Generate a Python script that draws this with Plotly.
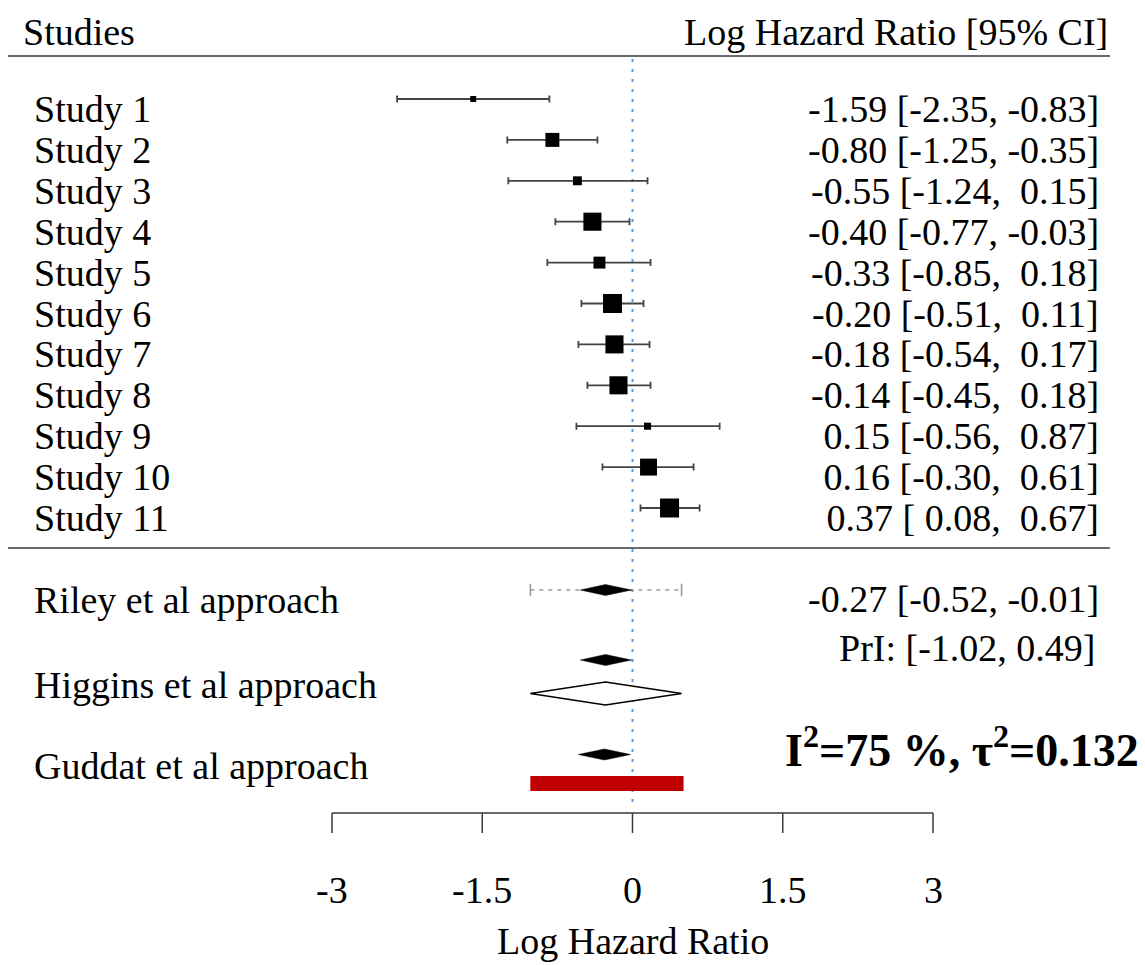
import plotly.graph_objects as go

# ---- data -------------------------------------------------------------
studies = [f"Study {i}" for i in range(1, 12)]
est = [-1.59, -0.80, -0.55, -0.40, -0.33, -0.20, -0.18, -0.14, 0.15, 0.16, 0.37]
lower = [-2.35, -1.25, -1.24, -0.77, -0.85, -0.51, -0.54, -0.45, -0.56, -0.30, 0.08]
upper = [-0.83, -0.35, 0.15, -0.03, 0.18, 0.11, 0.17, 0.18, 0.87, 0.61, 0.67]
weights = [3.8, 8.9, 5.7, 11.5, 7.6, 12.1, 11.5, 11.5, 4.5, 10.8, 12.1]  # % weight

pooled_est, pooled_lo, pooled_hi = -0.27, -0.52, -0.01
pi_lo, pi_hi = -1.02, 0.49
guddat_est, guddat_lo, guddat_hi = -0.28, -0.54, -0.02
guddat_pi_lo, guddat_pi_hi = -1.02, 0.51
i2, tau2 = 75, 0.132

axis_ticks = [-3, -1.5, 0, 1.5, 3]
axis_tick_labels = ["-3", "-1.5", "0", "1.5", "3"]

# ---- geometry (pixel space of a 1145 x 965 canvas) --------------------
W, H = 1145, 965
PX_PER_UNIT = 601 / 6.0
X_ZERO = 632.5
x_left = -X_ZERO / PX_PER_UNIT
x_right = (W - X_ZERO) / PX_PER_UNIT

ROW0, ROW_STEP = 99, 40.9
row_y = [ROW0 + i * ROW_STEP for i in range(len(studies))]
TEXT_DY = 10

Y_HEADER_LINE = 56
Y_SEP_LINE = 548
Y_RILEY = 590
Y_HIGGINS = 660
Y_HIGGINS_PI = 693.5
Y_GUDDAT = 754.5
Y_GUDDAT_PI = 783.5
Y_AXIS = 813

FONT = "Liberation Serif"
FS = 38
INK = "#000000"
CI_GREY = "#444444"


def px(xp):
    return x_left + xp / PX_PER_UNIT


def fmt(v):
    return f"{v:5.2f}".replace(" ", "\u00a0")


fig = go.Figure()

# study confidence intervals with caps
fig.add_trace(go.Scatter(
    x=est, y=row_y, mode="markers",
    marker=dict(size=1, color="rgba(0,0,0,0)"),
    error_x=dict(type="data", symmetric=False,
                 array=[u - e for u, e in zip(upper, est)],
                 arrayminus=[e - l for e, l in zip(est, lower)],
                 color=CI_GREY, thickness=1.8, width=3.5),
    hoverinfo="skip", showlegend=False,
))
# study point estimates, square size by weight
fig.add_trace(go.Scatter(
    x=est, y=row_y, mode="markers", opacity=1,
    marker=dict(symbol="square", size=[w * 1.57 for w in weights], color=INK,
                opacity=1, line=dict(width=0)),
    hoverinfo="skip", showlegend=False,
))


def diamond(lo, mid, hi, yc, h, fill, line_w=0):
    fig.add_trace(go.Scatter(
        x=[lo, mid, hi, mid, lo], y=[yc, yc - h / 2, yc, yc + h / 2, yc],
        mode="lines", fill="toself", fillcolor=fill,
        line=dict(color=INK, width=line_w if line_w else 0.5),
        hoverinfo="skip", showlegend=False,
    ))


# Riley et al: prediction interval (dashed) + pooled diamond
fig.add_trace(go.Scatter(
    x=[pi_lo, pi_hi], y=[Y_RILEY, Y_RILEY], mode="lines",
    line=dict(color="#9a9a9a", width=1.4, dash="4px,5px"),
    hoverinfo="skip", showlegend=False,
))
fig.add_trace(go.Scatter(
    x=[pi_lo, pi_hi], y=[Y_RILEY, Y_RILEY], mode="markers",
    marker=dict(symbol="line-ns", size=9, line=dict(color="#9a9a9a", width=1.6)),
    hoverinfo="skip", showlegend=False,
))
diamond(pooled_lo, pooled_est, pooled_hi, Y_RILEY, 11, INK)

# Higgins et al: pooled diamond + prediction-interval diamond
diamond(pooled_lo, pooled_est, pooled_hi, Y_HIGGINS, 11, INK)
diamond(pi_lo, pooled_est, pi_hi, Y_HIGGINS_PI, 23, "white", line_w=1.3)

# Guddat et al: pooled diamond + prediction bar
diamond(guddat_lo, guddat_est, guddat_hi, Y_GUDDAT, 11, INK)
fig.add_trace(go.Scatter(
    x=[guddat_pi_lo, guddat_pi_hi, guddat_pi_hi, guddat_pi_lo, guddat_pi_lo],
    y=[Y_GUDDAT_PI - 7.5, Y_GUDDAT_PI - 7.5, Y_GUDDAT_PI + 7.5, Y_GUDDAT_PI + 7.5,
       Y_GUDDAT_PI - 7.5],
    mode="lines", fill="toself", fillcolor="#c00000",
    line=dict(color="#c00000", width=0), hoverinfo="skip", showlegend=False,
))

shapes = []
# header and separator rules
for yy in (Y_HEADER_LINE, Y_SEP_LINE):
    shapes.append(dict(type="line", xref="x", yref="y", x0=px(8), x1=px(1110),
                       y0=yy, y1=yy, line=dict(color="#3a3a3a", width=1.5)))
# reference line at zero
shapes.append(dict(type="line", xref="x", yref="y", x0=0, x1=0, y0=59, y1=806,
                   line=dict(color="#5b9bd5", width=2, dash="3px,7px"), layer="below"))
# horizontal axis
shapes.append(dict(type="line", xref="x", yref="y", x0=axis_ticks[0], x1=axis_ticks[-1],
                   y0=Y_AXIS, y1=Y_AXIS, line=dict(color="#3a3a3a", width=1.5)))
for t in axis_ticks:
    shapes.append(dict(type="line", xref="x", yref="y", x0=t, x1=t, y0=Y_AXIS,
                       y1=Y_AXIS + 20, line=dict(color="#3a3a3a", width=1.5)))

ann = []


def text(x, y, s, anchor, size=FS, bold=False):
    ann.append(dict(x=x, y=y, xref="x", yref="y", text=s, showarrow=False,
                    xanchor=anchor, yanchor="middle",
                    font=dict(family=FONT, size=size, color=INK,
                              weight="bold" if bold else "normal")))


text(px(21), 32, "Studies", "left")
text(px(1110), 32, "Log Hazard Ratio [95% CI]", "right")
for name, e, l, u, yy in zip(studies, est, lower, upper, row_y):
    text(px(32), yy + TEXT_DY, name, "left")
    text(px(1101), yy + TEXT_DY, f"{fmt(e)} [{fmt(l)}, {fmt(u)}]", "right")

text(px(32), 600, "Riley et al approach", "left")
text(px(1101), 599, f"{pooled_est:.2f} [{pooled_lo:.2f}, {pooled_hi:.2f}]", "right")
text(px(1097), 648, f"PrI: [{pi_lo:.2f}, {pi_hi:.2f}]", "right")
text(px(32), 685, "Higgins et al approach", "left")
text(px(32), 766, "Guddat et al approach", "left")
text(px(1141), 747, f"I<sup>2</sup>={i2} %, τ<sup>2</sup>={tau2:.3f}", "right",
     size=46, bold=True)

for t, lab in zip(axis_ticks, axis_tick_labels):
    text(t, 890, lab, "center")
text(0, 941, "Log Hazard Ratio", "center")

fig.update_layout(
    width=W, height=H, margin=dict(l=0, r=0, t=0, b=0),
    paper_bgcolor="white", plot_bgcolor="white",
    xaxis=dict(range=[x_left, x_right], visible=False, fixedrange=True),
    yaxis=dict(range=[H, 0], visible=False, fixedrange=True),
    shapes=shapes, annotations=ann,
)

fig.write_html("out.html")
